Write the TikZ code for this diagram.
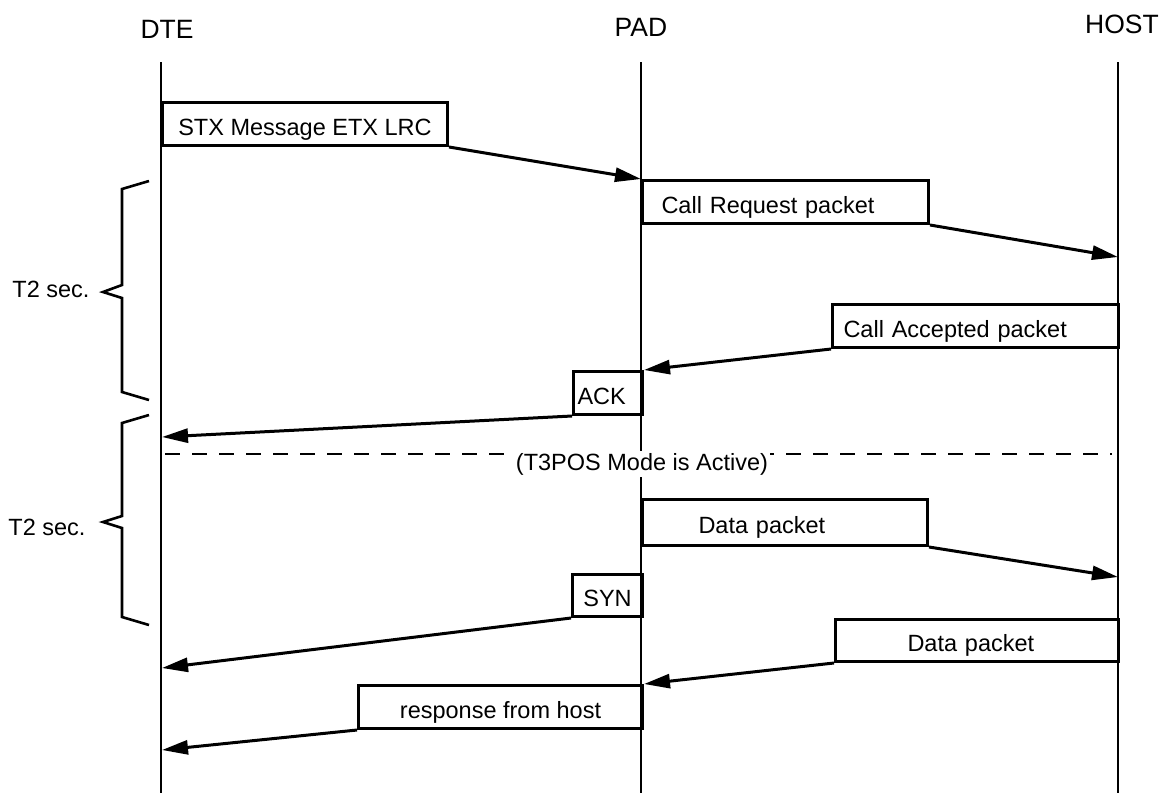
\documentclass[tikz,border=0pt]{standalone}
\usepackage{fontspec}
\setmainfont{Liberation Sans}
\usetikzlibrary{arrows.meta}
\newcommand\msgfont{\fontsize{23.5}{27}\selectfont}
\newcommand\hdfont{\fontsize{26.5}{30}\selectfont}
\begin{document}
\begin{tikzpicture}[x=1pt,y=-1pt,
  lifeline/.style={line width=2.8pt},
  msgbox/.style={draw, line width=3pt, minimum height=43pt, inner ysep=0pt,
    text height=22pt, text depth=0pt, anchor=north west, font=\msgfont},
  msgarrow/.style={line width=3pt, -{Triangle[length=26pt,width=14pt]}},
  head/.style={font=\hdfont, anchor=base, inner sep=0pt},
  span/.style={line width=2.6pt, line join=miter},
  spanlabel/.style={font=\msgfont, anchor=base, inner sep=0pt},
  dashline/.style={line width=2pt, dash pattern=on 15pt off 12pt}]
\useasboundingbox (0,0) rectangle (1167,793);

% participants
\node[head] (dte) at (167,38) {DTE};
\node[head] (pad) at (641,36) {PAD};
\node[head, anchor=base west] (host) at (1085,33) {HOST};

% lifelines
\coordinate (dteTop) at (161,62);  \coordinate (dteBot) at (161,793);
\coordinate (padTop) at (641,62);  \coordinate (padBot) at (641,793);
\coordinate (hostTop) at (1118,62); \coordinate (hostBot) at (1118,793);
\draw[lifeline] (dteTop) -- (dteBot);
\draw[lifeline] (padTop) -- (padBot);
\draw[lifeline] (hostTop) -- (hostBot);

% mode change marker
\coordinate (modeL) at (165,454);
\coordinate (modeR) at (1112,454);
\draw[dashline] (modeL) -- (modeR);
\node[font=\msgfont, fill=white, inner sep=2pt, anchor=base] (mode) at (642,470) {(T3POS Mode is Active)};

% timer spans
\draw[span] (149,181) -- (122,189) -- (122,285) -- (103,292) -- (122,298) -- (122,392) -- (149,400);
\draw[span] (149,415) -- (122,423) -- (122,516) -- (103,522) -- (122,528) -- (122,617) -- (149,625);
\node[spanlabel] (t2a) at (51,297) {T2 sec.};
\node[spanlabel] (t2b) at (47,535) {T2 sec.};

% messages
\node[msgbox, minimum width=285pt] (stx) at (161,101) {STX Message ETX LRC};
\node[msgbox, text width=248pt, inner xsep=19pt, align=left] (creq) at (641,179) {Call Request packet};
\node[msgbox, text width=264pt, inner xsep=11pt, align=left] (cacc) at (831,303) {Call Accepted packet};
\node[msgbox, text width=61pt, inner xsep=4pt, align=left] (ack) at (572,370) {ACK};
\node[msgbox, minimum height=46pt, text width=173pt, inner xsep=56pt, align=left] (data1) at (641,498) {Data packet};
\node[msgbox, minimum width=70pt, minimum height=42pt] (syn) at (571,573) {SYN};
\node[msgbox, minimum height=42pt, text width=139pt, inner xsep=72pt, align=left] (data2) at (834,618) {Data packet};
\node[msgbox, minimum width=284pt] (resp) at (357,684) {response from host};

% arrival points on the lifelines
\coordinate (h1) at (1118,257);
\coordinate (h2) at (1118,577);
\coordinate (d1) at (162,437);
\coordinate (d2) at (162,668);
\coordinate (d3) at (162,750);

\draw[msgarrow] (stx.south east) -- (creq.north west);
\draw[msgarrow] (creq.south east) -- (h1);
\draw[msgarrow] (cacc.south west) -- (ack.north east);
\draw[msgarrow] (ack.south west) -- (d1);
\draw[msgarrow] (data1.south east) -- (h2);
\draw[msgarrow] (syn.south west) -- (d2);
\draw[msgarrow] (data2.south west) -- (resp.north east);
\draw[msgarrow] (resp.south west) -- (d3);
\end{tikzpicture}
\end{document}
